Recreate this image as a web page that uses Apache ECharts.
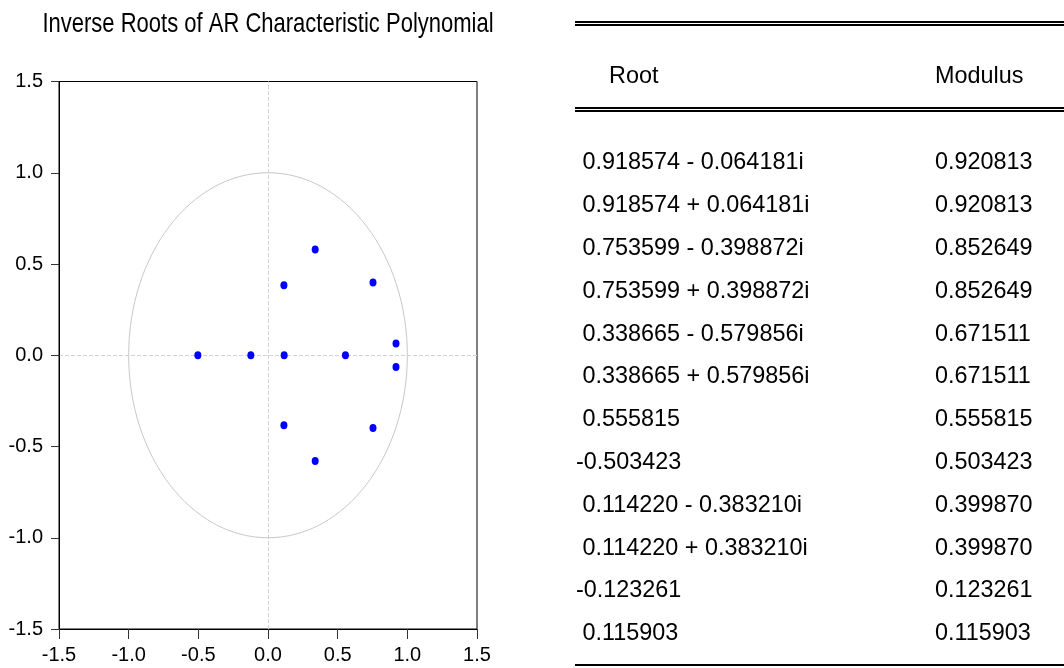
<!DOCTYPE html>
<html>
<head>
<meta charset="utf-8">
<script src="https://cdn.jsdelivr.net/npm/echarts@6/dist/echarts.min.js"></script>
<style>
html,body{margin:0;padding:0;background:#fff;}
#chart{width:1064px;height:668px;}
</style>
</head>
<body>
<div id="chart"></div>
<script>
// ---- data ----
const titleText = 'Inverse Roots of AR Characteristic Polynomial';
const rootReal = [0.918574, 0.918574, 0.753599, 0.753599, 0.338665, 0.338665, 0.555815, -0.503423, 0.114220, 0.114220, -0.123261, 0.115903];
const rootImag = [-0.064181, 0.064181, -0.398872, 0.398872, -0.579856, 0.579856, 0, 0, -0.383210, 0.383210, 0, 0];
const rootLabels = ['0.918574 - 0.064181i', '0.918574 + 0.064181i', '0.753599 - 0.398872i', '0.753599 + 0.398872i',
  '0.338665 - 0.579856i', '0.338665 + 0.579856i', '0.555815', '-0.503423', '0.114220 - 0.383210i',
  '0.114220 + 0.383210i', '-0.123261', '0.115903'];
const moduli = ['0.920813', '0.920813', '0.852649', '0.852649', '0.671511', '0.671511', '0.555815', '0.503423',
  '0.399870', '0.399870', '0.123261', '0.115903'];
const tableHeaders = ['Root', 'Modulus'];
const axisTicks = [-1.5, -1.0, -0.5, 0.0, 0.5, 1.0, 1.5];
const unitRadius = 1;

// ---- chart ----
const regular = '"Liberation Sans", Arial, sans-serif';
const chart = echarts.init(document.getElementById('chart'), null, {renderer: 'canvas'});

const points = rootReal.map((r, i) => [r, rootImag[i]]);

const graphics = [];
// title (narrow look via horizontal scaling)
graphics.push({type: 'text', x: 268, y: 24, scaleX: 0.8, scaleY: 1, silent: true,
  style: {text: titleText, font: '27.5px ' + regular, fill: '#000', textAlign: 'center', textVerticalAlign: 'middle'}});
// table lines
const lineX1 = 575, lineX2 = 1064;
[22, 25, 108, 111, 665].forEach(y => {
  graphics.push({type: 'line', shape: {x1: lineX1, y1: y, x2: lineX2, y2: y}, style: {stroke: '#000', lineWidth: 2}, silent: true});
});
graphics.push({type: 'text', x: 609, y: 77, style: {text: tableHeaders[0], font: '23.4px ' + regular, fill: '#000', textVerticalAlign: 'middle', textAlign: 'left'}});
graphics.push({type: 'text', x: 935, y: 77, style: {text: tableHeaders[1], font: '23.4px ' + regular, fill: '#000', textVerticalAlign: 'middle', textAlign: 'left'}});
rootLabels.forEach((t, i) => {
  const y = 163 + 42.8 * i;
  const s = t.charAt(0) === '-' ? t : ' ' + t;
  graphics.push({type: 'text', x: 576, y: y, style: {text: s, font: '23.4px ' + regular, fill: '#000', textVerticalAlign: 'middle', textAlign: 'left'}});
  graphics.push({type: 'text', x: 935, y: y, style: {text: moduli[i], font: '23.4px ' + regular, fill: '#000', textVerticalAlign: 'middle', textAlign: 'left'}});
});

const axisCommon = {
  type: 'value', min: axisTicks[0], max: axisTicks[axisTicks.length - 1], interval: 0.5,
  axisLine: {show: true, onZero: false, lineStyle: {color: '#000', width: 1}},
  splitLine: {show: false},
  axisLabel: {color: '#000', fontFamily: regular, fontSize: 20, margin: 16,
    formatter: v => v.toFixed(1)}
};

chart.setOption({
  animation: false,
  backgroundColor: '#fff',
  grid: {left: 59, right: 587, top: 81.5, bottom: 39, show: true, borderColor: '#000', borderWidth: 1, backgroundColor: '#fff'},
  xAxis: Object.assign({}, axisCommon, {axisTick: {show: true, length: 10, lineStyle: {color: '#333'}}}),
  yAxis: Object.assign({}, axisCommon, {axisTick: {show: true, length: 8, lineStyle: {color: '#333'}}}),
  series: [
    {
      type: 'custom', silent: true, z: 1,
      data: [[0, 0]],
      renderItem: function (params, api) {
        const c = api.coord([0, 0]);
        const p = api.coord([unitRadius, unitRadius]);
        return {type: 'ellipse', shape: {cx: c[0], cy: c[1], rx: p[0] - c[0], ry: c[1] - p[1]},
          style: {fill: 'none', stroke: '#c8c8c8', lineWidth: 1}};
      }
    },
    {
      type: 'scatter', z: 3,
      data: points,
      symbol: 'circle', symbolSize: [7, 8],
      itemStyle: {color: '#0000ff', opacity: 1},
      markLine: {
        silent: true, symbol: 'none', animation: false, z: 0,
        label: {show: false},
        lineStyle: {color: '#d4d4d4', type: [4, 2], width: 1},
        emphasis: {disabled: true},
        data: [{xAxis: 0}, {yAxis: 0}]
      }
    }
  ],
  graphic: graphics
});
</script>
</body>
</html>
